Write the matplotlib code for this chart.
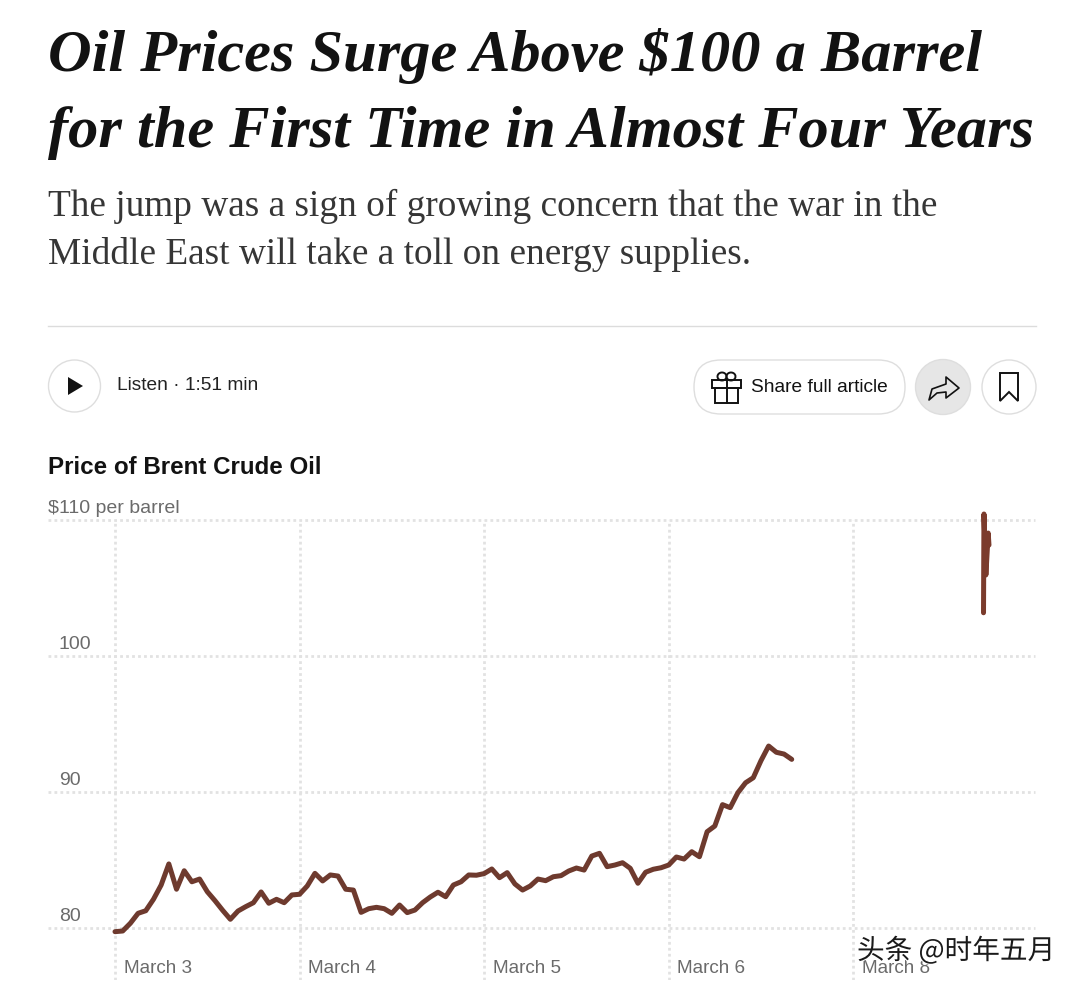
import numpy as np
import matplotlib
matplotlib.use("Agg")
import matplotlib.pyplot as plt
import matplotlib.patheffects as pe
from matplotlib.patches import Circle, FancyBboxPatch, Polygon, Rectangle, Arc

W, H = 1080, 989

# Hourly price, session of March 3 through March 6
prices = [
    79.73, 79.78, 80.35, 81.08, 81.27, 82.11, 83.16, 84.71, 82.85, 84.21,
    83.40, 83.60, 82.67, 82.01, 81.30, 80.64, 81.25, 81.57, 81.86, 82.65,
    81.82, 82.11, 81.86, 82.43, 82.48, 83.09, 84.02, 83.46, 83.90, 83.82,
    82.85, 82.79, 81.15, 81.42, 81.52, 81.42, 81.08, 81.69, 81.13, 81.32,
    81.86, 82.28, 82.63, 82.30, 83.16, 83.40, 83.90, 83.88, 84.00, 84.34,
    83.70, 84.07, 83.24, 82.79, 83.09, 83.60, 83.48, 83.77, 83.85, 84.19,
    84.41, 84.26, 85.29, 85.49, 84.51, 84.63, 84.80, 84.39, 83.29, 84.10,
    84.32, 84.43, 84.63, 85.22, 85.07, 85.61, 85.24, 87.08, 87.50, 89.07,
    88.85, 89.95, 90.68, 91.05, 92.30, 93.38, 92.92, 92.79, 92.40,
]
# Reopening spike after the weekend
spike_hours = [112.94, 113.0, 113.25, 113.55, 113.65]
spike_prices = [103.18, 110.44, 105.96, 109.04, 108.16]

tick_hours = [0, 24, 48, 72, 96]
tick_labels = ["March 3", "March 4", "March 5", "March 6", "March 8"]
y_values = [80, 90, 100, 110]
y_labels = ["80", "90", "100", "$110 per barrel"]

TITLE = ["Oil Prices Surge Above $100 a Barrel",
         "for the First Time in Almost Four Years"]
SUBTITLE = ["The jump was a sign of growing concern that the war in the",
            "Middle East will take a toll on energy supplies."]

LINE_COLOR = "#6e3a2e"
SPIKE_COLOR = "#7b3b2c"
GRID_COLOR = "#e2e2e2"
LABEL_COLOR = "#6b6b6b"

fig = plt.figure(figsize=(W / 100, H / 100), dpi=100, facecolor="white")

# Chart axes: 7.69 px per hour, 13.6 px per dollar
left, right, top, bottom = 48, 1035, 520, 980
ax = fig.add_axes([left / W, 1 - bottom / H, (right - left) / W, (bottom - top) / H])
ax.set_xlim((left - 115) / 7.69, (right - 115) / 7.69)
ax.set_ylim(80 - (bottom - 928) / 13.6, 110)
for s in ax.spines.values():
    s.set_visible(False)
ax.set_xticks(tick_hours)
ax.set_yticks(y_values)
ax.set_xticklabels([])
ax.set_yticklabels([])
ax.tick_params(length=0)
ax.grid(True, color=GRID_COLOR, lw=2, linestyle=(0, (1, 1.15)), dash_capstyle="butt")
ax.set_axisbelow(True)
# the 110 line sits on the axes edge
for gl in ax.get_ygridlines():
    gl.set_clip_on(False)

ax.plot(np.arange(len(prices)), prices, color=LINE_COLOR, lw=3.6,
        solid_joinstyle="round", solid_capstyle="round", clip_on=False)
ax.plot(spike_hours, spike_prices, color=SPIKE_COLOR, lw=3.6,
        solid_joinstyle="round", solid_capstyle="round", clip_on=False)

for hour, label in zip(tick_hours, tick_labels):
    ax.annotate(label, (hour, 80), xytext=(6.2, -23), textcoords="offset points",
                ha="left", va="top", fontsize=13.6, color=LABEL_COLOR,
                family="Liberation Sans")
for val, label in zip(y_values, y_labels):
    x_off = -8 if val == 110 else 0
    ax.annotate(label, (-7.3, val), xytext=(x_off, 2.5), textcoords="offset points",
                ha="left", va="bottom", fontsize=14, color=LABEL_COLOR,
                family="Liberation Sans")

# Page furniture drawn in pixel coordinates
page = fig.add_axes([0, 0, 1, 1], facecolor="none")
page.set_xlim(0, W)
page.set_ylim(H, 0)
page.axis("off")

for y, line in zip([56, 133], TITLE):
    page.text(48, y, line, family="Liberation Serif", weight="bold", style="italic",
              fontsize=43.5, color="#121212", va="center", ha="left")
for y, line in zip([206, 255], SUBTITLE):
    page.text(48, y, line, family="Liberation Serif", fontsize=26.8, color="#363636",
              va="center", ha="left")
page.plot([48, 1036], [325.5, 325.5], color="#dcdcdc", lw=1)

# Listen control
page.add_patch(Circle((74.5, 386), 26, fc="white", ec="#dedede", lw=1))
page.add_patch(Polygon([[68, 377], [68, 395], [83, 386]], fc="#121212", ec="none"))
page.text(117, 386, "Listen · 1:51 min", family="Liberation Sans", fontsize=13.8,
          color="#222222", va="center", ha="left")

# Share controls
page.add_patch(FancyBboxPatch((694, 360), 211, 54, boxstyle="round,pad=0,rounding_size=27",
                              fc="white", ec="#dedede", lw=1))
page.text(751, 388, "Share full article", family="Liberation Sans", fontsize=13.8,
          color="#121212", va="center", ha="left")
page.add_patch(Rectangle((712, 380), 29, 8, fc="none", ec="#121212", lw=1.4))
page.add_patch(Rectangle((715, 388), 23, 15, fc="none", ec="#121212", lw=1.4))
page.plot([726.5, 726.5], [380, 403], color="#121212", lw=1.4)
page.add_patch(Arc((722, 376.5), 9, 8, fc="none", ec="#121212", lw=1.4))
page.add_patch(Arc((731, 376.5), 9, 8, fc="none", ec="#121212", lw=1.4))

page.add_patch(Circle((943, 387), 27.5, fc="#e6e6e6", ec="#dedede", lw=1))
page.add_patch(Polygon([[929, 400], [932, 389], [946, 384], [946, 377], [959, 388],
                        [946, 398], [946, 392], [937, 393]],
                       fc="none", ec="#121212", lw=1.2, joinstyle="round"))
page.add_patch(Circle((1009, 387), 27, fc="white", ec="#dedede", lw=1))
page.add_patch(Polygon([[1000, 373], [1018, 373], [1018, 401], [1009, 392], [1000, 401]],
                       fc="none", ec="#121212", lw=1.4))

page.text(48, 468, "Price of Brent Crude Oil", family="Liberation Sans", weight="bold",
          fontsize=17.4, color="#121212", va="center", ha="left")

# Watermark over the last tick label
page.text(857, 951, "头条 @时年五月", family=["Noto Sans CJK SC", "DejaVu Sans"],
          fontsize=19.9, color="#1a1a1a", va="center", ha="left",
          path_effects=[pe.withStroke(linewidth=1.5, foreground="white")])

fig.savefig("out.png", dpi=100, facecolor="white")
